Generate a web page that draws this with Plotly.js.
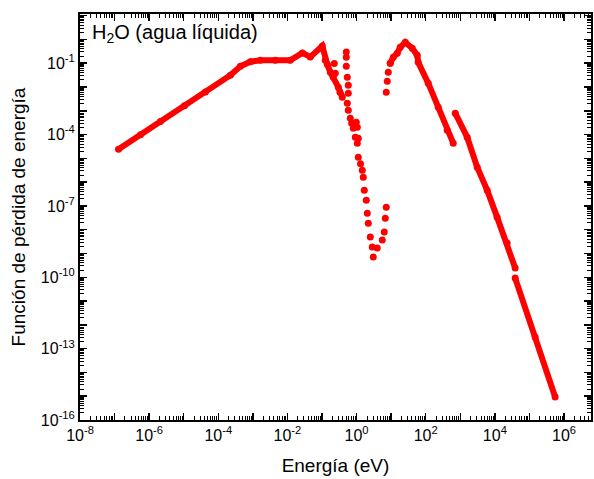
<!DOCTYPE html>
<html>
<head>
<meta charset="utf-8">
<script src="https://cdn.plot.ly/plotly-3.0.1.min.js"></script>
<style>html,body{margin:0;padding:0;background:#fff}#chart{width:594px;height:479px}</style>
</head>
<body>
<div id="chart"></div>
<script>
// Dataset 1: low-energy continuous part (eV, loss function)
const energyA = [1.30e-7, 5.61e-7, 2.12e-6, 1.05e-5, 4.24e-5, 2.24e-4, 4.36e-4, 8.47e-4, 1.65e-3, 4.47e-3, 1.21e-2, 2.70e-2, 4.59e-2, 0.102, 0.124, 0.142, 0.174, 0.212, 0.296, 0.386];
const lossA   = [2.44e-5, 9.91e-5, 3.55e-4, 1.64e-3, 6.22e-3, 3.13e-2, 7.48e-2, 0.116, 0.134, 0.134, 0.134, 0.271, 0.184, 0.525, 0.134, 9.08e-2, 4.19e-2, 2.58e-2, 9.82e-3, 3.72e-3];
// Dataset 1: sparse points through the transparency window
const energyB = [0.538, 0.575, 0.658, 0.720, 0.804, 0.916, 1.05, 1.12, 1.30, 1.46, 1.56, 1.67, 1.91, 2.04, 2.18, 2.49, 2.84, 3.04, 3.96, 5.53, 6.32, 6.76, 7.21];
const lossB   = [2.08e-3, 1.06e-3, 4.89e-4, 3.00e-4, 1.86e-4, 7.78e-5, 4.36e-5, 1.12e-5, 6.00e-6, 3.19e-6, 1.62e-6, 4.61e-7, 1.75e-7, 4.98e-8, 1.89e-8, 4.89e-9, 1.86e-9, 7.06e-10, 1.69e-9, 3.66e-9, 7.93e-9, 3.07e-8, 8.91e-8];
// Scattered points from other measurements
const energyC = [0.226, 0.242, 0.330, 0.504, 0.504, 0.504, 0.538, 0.575, 0.575, 0.979, 1.05, 1.12];
const lossC   = [9.70e-2, 3.80e-2, 6.00e-3, 0.299, 0.179, 7.48e-2, 2.58e-2, 1.19e-2, 5.48e-3, 3.32e-4, 2.05e-4, 7.00e-5];
// Dataset 2: from ~7 eV to ~600 eV
const energyD = [7.21, 7.71, 8.24, 9.42, 11.5, 15.0, 18.3, 25.6, 40.7, 56.8, 60.7, 118, 230, 418, 624];
const lossD   = [6.05e-3, 1.75e-2, 4.19e-2, 0.100, 0.179, 0.263, 0.470, 0.762, 0.427, 0.217, 0.110, 1.45e-2, 1.42e-3, 1.53e-4, 4.36e-5];
// Dataset 3: ~700 eV to ~40 keV
const energyE = [713, 1580, 3080, 5980, 1.16e4, 2.26e4, 3.86e4];
const lossE   = [7.93e-4, 7.78e-5, 4.27e-6, 4.61e-7, 3.38e-8, 2.74e-9, 2.44e-10];
// Dataset 4: ~40 keV to ~550 keV
const energyF = [3.86e4, 1.46e5, 5.53e5];
const lossF   = [9.25e-11, 3.07e-13, 9.25e-16];

const xTickExp = [-8,-7,-6,-5,-4,-3,-2,-1,0,1,2,3,4,5,6];
const xLabelExp = [-8,-6,-4,-2,0,2,4,6];
const yTickExp = [-16,-15,-14,-13,-12,-11,-10,-9,-8,-7,-6,-5,-4,-3,-2,-1,0,1];
const yLabelExp = [-16,-13,-10,-7,-4,-1];

function majorVals(exps){ return exps.map(e => Math.pow(10, e)); }
function majorText(exps, labels){ return exps.map(e => labels.includes(e) ? '10<sup>' + e + '</sup>' : ''); }
function minorVals(lo, hi, maxLog){
  const v = [];
  for (let k = lo; k <= hi; k++) for (let m = 2; m <= 9; m++) {
    const val = m * Math.pow(10, k);
    if (Math.log10(val) <= maxLog) v.push(val);
  }
  return v;
}

const red = '#ff0000';
const lineStyle = {color: red, width: 6};
const mk = {color: red, size: 7};
const traces = [
  {x: energyA, y: lossA, mode: 'lines+markers', line: lineStyle, marker: mk},
  {x: energyB, y: lossB, mode: 'markers', marker: mk},
  {x: energyC, y: lossC, mode: 'markers', marker: mk},
  {x: energyD.slice(0,4), y: lossD.slice(0,4), mode: 'markers', marker: mk},
  {x: energyD.slice(3), y: lossD.slice(3), mode: 'lines+markers', line: lineStyle, marker: mk},
  {x: energyE, y: lossE, mode: 'lines+markers', line: lineStyle, marker: mk},
  {x: energyF, y: lossF, mode: 'lines+markers', line: lineStyle, marker: mk}
];

const font = 'Liberation Sans, Arial, sans-serif';
const axisCommon = {
  type: 'log', showgrid: false, zeroline: false,
  showline: true, linecolor: '#000', linewidth: 2, mirror: 'allticks',
  ticks: 'inside', ticklen: 7, tickwidth: 1.5, tickcolor: '#000',
  tickmode: 'array', tickfont: {family: font, size: 16, color: '#000'}
};

const layout = {
  width: 594, height: 479,
  margin: {l: 80, r: 3, t: 14, b: 59},
  paper_bgcolor: '#fff', plot_bgcolor: '#fff',
  showlegend: false,
  font: {family: font, color: '#000'},
  xaxis: Object.assign({}, axisCommon, {
    range: [-8, 6.78],
    tickvals: majorVals(xTickExp), ticktext: majorText(xTickExp, xLabelExp),
    minor: {tickmode: 'array', tickvals: minorVals(-8, 6, 6.78), ticks: 'inside', ticklen: 4, tickwidth: 1, tickcolor: '#000', showgrid: false},
    title: {text: 'Energía (eV)', font: {family: font, size: 19, color: '#000'}, standoff: 15}
  }),
  yaxis: Object.assign({}, axisCommon, {
    range: [-16, 1.07],
    tickvals: majorVals(yTickExp), ticktext: majorText(yTickExp, yLabelExp),
    minor: {tickmode: 'array', tickvals: minorVals(-16, 1, 1.07), ticks: 'inside', ticklen: 4, tickwidth: 1, tickcolor: '#000', showgrid: false},
    title: {text: 'Función de pérdida de energía', font: {family: font, size: 19, color: '#000'}, standoff: 10}
  }),
  annotations: [{
    text: 'H<sub>2</sub>O (agua líquida)', xref: 'paper', yref: 'paper',
    x: 0.02, y: 0.953, xanchor: 'left', yanchor: 'middle', showarrow: false,
    font: {family: font, size: 20, color: '#000'}
  }]
};

Plotly.newPlot('chart', traces, layout, {staticPlot: true, displayModeBar: false});
</script>
</body>
</html>
